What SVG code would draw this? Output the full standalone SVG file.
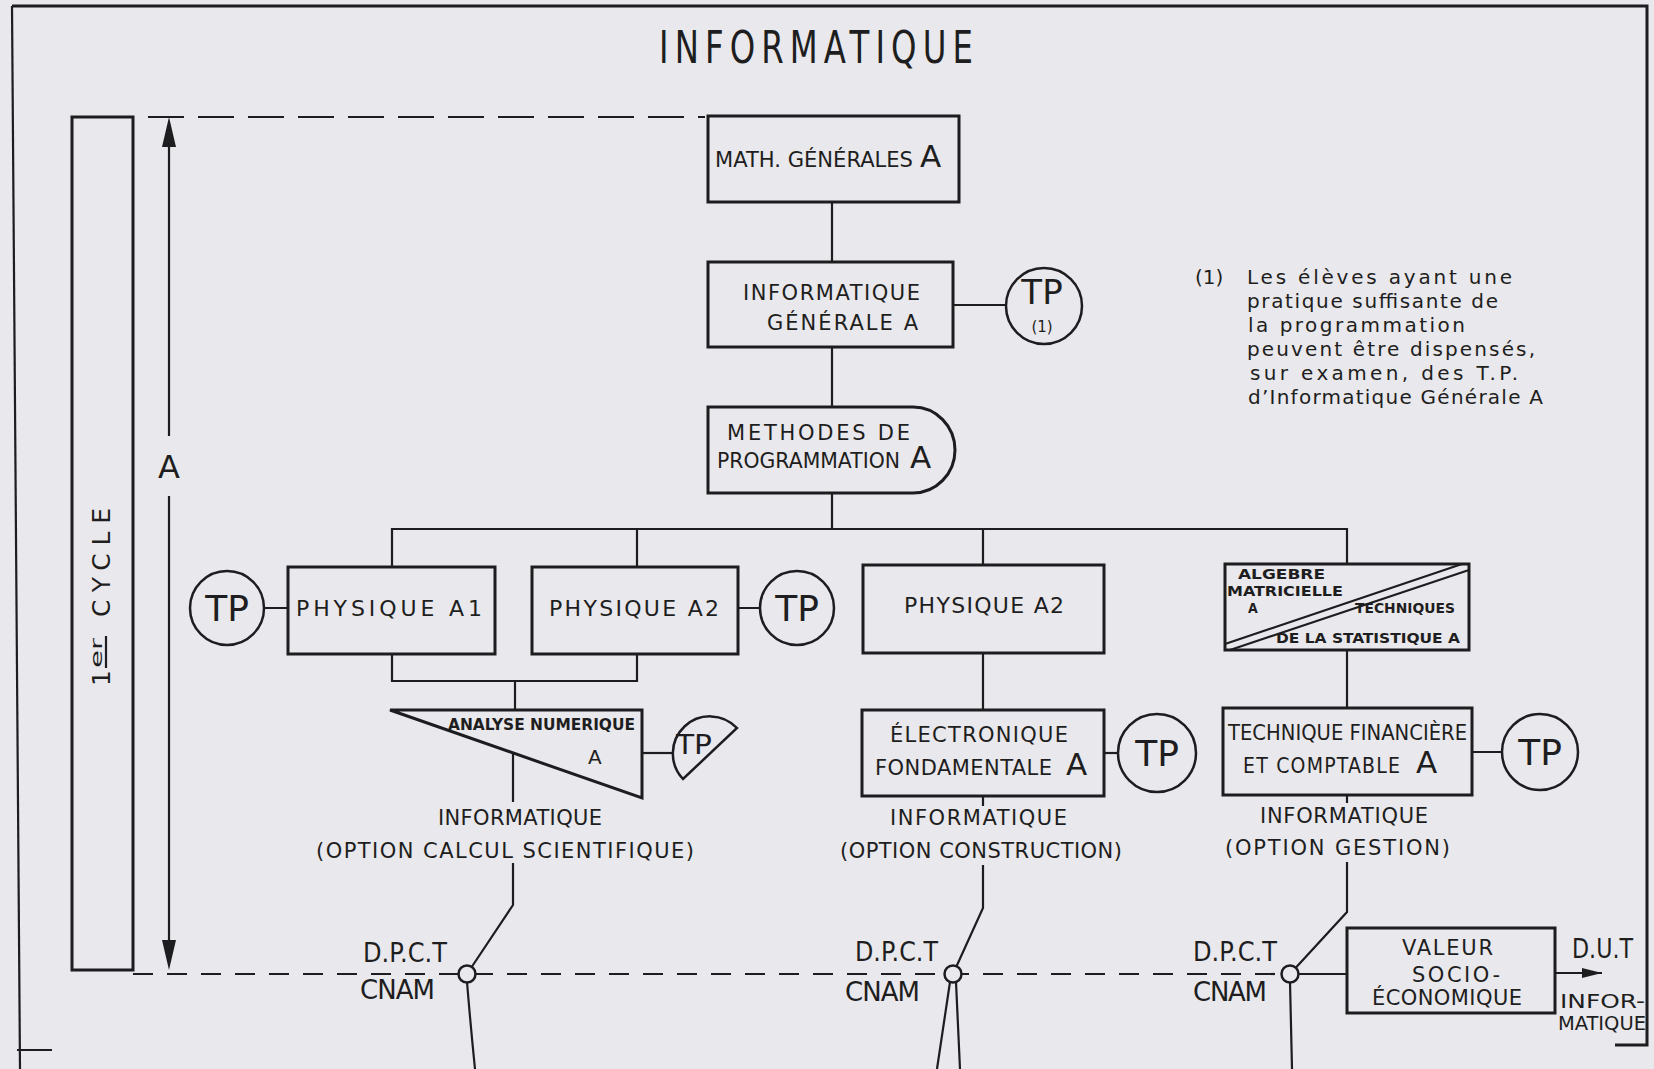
<svg xmlns="http://www.w3.org/2000/svg" width="1654" height="1069" viewBox="0 0 1654 1069">
<style>
.bg{fill:#e9e8ed}
.box{fill:none;stroke:#1d1d1f;stroke-width:3}
.circ{fill:#e9e8ed;stroke:#1d1d1f;stroke-width:2.5}
.ln{fill:none;stroke:#1d1d1f;stroke-width:2.2}
.dash1{fill:none;stroke:#1d1d1f;stroke-width:2.2;stroke-dasharray:36 14}
.dash2{fill:none;stroke:#1d1d1f;stroke-width:2.2;stroke-dasharray:20 14}
.frame{fill:none;stroke:#1d1d1f;stroke-width:3}
text{font-family:"DejaVu Sans","Liberation Sans",sans-serif;fill:#1e1e20}
.t21{font-size:21px}
.t22{font-size:22px}
.big{font-size:31px}
.tp{font-size:36px;text-anchor:middle}
.cond{font-family:"DejaVu Sans Condensed","DejaVu Sans","Liberation Sans",sans-serif}
.small{font-size:14px;font-weight:bold}
.note{font-size:20px}
.lab{font-size:26px}
</style>
<defs>
<marker id="arr" viewBox="0 0 20 10" refX="20" refY="5" markerWidth="20" markerHeight="10" markerUnits="userSpaceOnUse" orient="auto">
<path d="M0 0 L20 5 L0 10 Z" fill="#1d1d1f"/>
</marker>
</defs>
<rect class="bg" x="0" y="0" width="1654" height="1069"/>

<g id="frame">
<path class="frame" d="M12 6 H1647 V1045 H1615"/>
<path class="ln" d="M12 6 L20 1069"/>
<path class="ln" d="M17 1050 H52"/>
</g>

<text id="title" transform="translate(659,63) scale(0.72,1)" x="0" y="0" font-size="45" font-weight="500" textLength="436">INFORMATIQUE</text>

<g id="cycle">
<rect class="box" x="72" y="117" width="61" height="853"/>
<g transform="translate(110,686) rotate(-90)">
<text x="0" y="0" font-size="25">1</text>
<text x="18" y="-8" font-size="16" textLength="30" lengthAdjust="spacingAndGlyphs">er</text>
<path class="ln" d="M18 -4 H50" stroke-width="1.8"/>
<text x="69" y="0" font-size="25" textLength="109">CYCLE</text>
</g>
</g>

<g id="dimension">
<path class="ln" d="M169 140 V436 M169 496 V946"/>
<path d="M169 117 L176 147 L162 147 Z M169 970 L176 940 L162 940 Z" fill="#1d1d1f"/>
<text x="169" y="478" font-size="32" text-anchor="middle">A</text>
</g>

<g id="connectors">
<path class="dash1" d="M148 117 H705"/>
<path class="dash2" d="M133 974 H1282"/>
<path class="ln" d="M832 202 V262 M832 347 V407 M832 493 V529"/>
<path class="ln" d="M953 305 H1006"/>
<path class="ln" d="M392 566 V529 H1347 V564 M637 529 V566 M983 529 V565"/>
<path class="ln" d="M263 608 H288 M738 608 H760"/>
<path class="ln" d="M392 654 V681 H637 V654 M515 681 V710"/>
<path class="ln" d="M513 753 V802 M513 863 V905 L467 974"/>
<path class="ln" d="M642 753 H672"/>
<path class="ln" d="M983 653 V710 M983 796 V806 M983 865 V908 L953 974"/>
<path class="ln" d="M1104 753 H1118"/>
<path class="ln" d="M1347 650 V708 M1472 752 H1502"/>
<path class="ln" d="M1347 795 V803 M1347 862 V912 L1290 974"/>
<path class="ln" d="M1290 974 H1347"/>
<path class="ln" d="M1555 973 H1602" marker-end="url(#arr)"/>
<path class="ln" d="M467 982 Q471 1030 475 1069 M950 982 L937 1069 M956 982 L960 1069 M1290 982 L1292 1069"/>
<circle class="circ" cx="467" cy="974" r="8.5"/>
<circle class="circ" cx="953" cy="974" r="8.5"/>
<circle class="circ" cx="1290" cy="974" r="8.5"/>
</g>

<g id="math">
<rect class="box" x="708" y="116" width="251" height="86"/>
<text x="715" y="167" class="t22" textLength="198" lengthAdjust="spacingAndGlyphs">MATH. GÉNÉRALES</text>
<text x="920" y="167" class="big">A</text>
</g>

<g id="info-gen">
<rect class="box" x="708" y="262" width="245" height="85"/>
<text x="743" y="300" class="t21" textLength="177">INFORMATIQUE</text>
<text x="767" y="330" class="t21" textLength="151">GÉNÉRALE A</text>
</g>

<g id="tp1">
<circle class="circ" cx="1044" cy="306" r="38"/>
<text x="1042" y="304" font-size="34" text-anchor="middle">TP</text>
<text x="1042" y="332" font-size="15" text-anchor="middle">(1)</text>
</g>

<g id="note">
<text class="note" x="1195" y="284">(1)</text>
<text class="note" x="1247" y="284" textLength="265">Les élèves ayant une</text>
<text class="note" x="1247" y="308" textLength="251">pratique suffisante de</text>
<text class="note" x="1248" y="332" textLength="217">la programmation</text>
<text class="note" x="1247" y="356" textLength="288">peuvent être dispensés,</text>
<text class="note" x="1250" y="380" textLength="268">sur examen, des T.P.</text>
<text class="note" x="1248" y="404" textLength="295">d’Informatique Générale A</text>
</g>

<g id="methodes">
<path class="box" d="M708 407 H913 A42 43 0 0 1 913 493 H708 Z"/>
<text x="727" y="440" class="t21" textLength="183">METHODES DE</text>
<text x="717" y="468" class="t21" textLength="183" lengthAdjust="spacingAndGlyphs">PROGRAMMATION</text>
<text x="910" y="468" class="big">A</text>
</g>

<g id="tp-a1">
<circle class="circ" cx="227" cy="608" r="37"/>
<text x="227" y="621" class="tp">TP</text>
</g>

<g id="physique-a1">
<rect class="box" x="288" y="567" width="207" height="87"/>
<text x="296" y="616" class="t22" textLength="186">PHYSIQUE  A1</text>
</g>

<g id="physique-a2-left">
<rect class="box" x="532" y="567" width="206" height="87"/>
<text x="549" y="616" class="t22" textLength="170">PHYSIQUE A2</text>
</g>

<g id="tp-a2">
<circle class="circ" cx="797" cy="608" r="37"/>
<text x="797" y="621" class="tp">TP</text>
</g>

<g id="physique-a2-mid">
<rect class="box" x="863" y="565" width="241" height="88"/>
<text x="904" y="613" class="t22" textLength="160">PHYSIQUE A2</text>
</g>

<g id="algebre">
<rect class="box" x="1225" y="564" width="244" height="86"/>
<path class="ln" d="M1225 644 L1462 564 M1230 650 L1469 570"/>
<text x="1238" y="579" class="small cond" textLength="87" lengthAdjust="spacingAndGlyphs">ALGEBRE</text>
<text x="1227" y="596" class="small cond" textLength="116" lengthAdjust="spacingAndGlyphs">MATRICIELLE</text>
<text x="1248" y="613" class="small cond">A</text>
<text x="1355" y="613" class="small cond" textLength="100" lengthAdjust="spacingAndGlyphs">TECHNIQUES</text>
<text x="1276" y="643" class="small cond" textLength="184" lengthAdjust="spacingAndGlyphs">DE LA STATISTIQUE A</text>
</g>

<g id="analyse">
<path class="box" d="M390 710 H642 V798 Z"/>
<text x="448" y="730" font-size="16" font-weight="bold" class="cond" textLength="187" lengthAdjust="spacingAndGlyphs">ANALYSE NUMERIQUE</text>
<text x="588" y="764" font-size="20">A</text>
</g>

<g id="tp-analyse">
<path class="circ" d="M683 779 A37 37 0 0 1 737 728 Z"/>
<text x="676" y="754" font-size="26" textLength="36" lengthAdjust="spacingAndGlyphs">TP</text>
</g>

<g id="electronique">
<rect class="box" x="862" y="710" width="242" height="86"/>
<text x="890" y="742" class="t21" textLength="178">ÉLECTRONIQUE</text>
<text x="875" y="775" class="t21" textLength="177">FONDAMENTALE</text>
<text x="1066" y="775" class="big">A</text>
</g>

<g id="tp-elec">
<circle class="circ" cx="1157" cy="753" r="39"/>
<text x="1157" y="766" class="tp">TP</text>
</g>

<g id="technique">
<rect class="box" x="1223" y="708" width="249" height="87"/>
<text x="1228" y="740" class="t21 cond" textLength="239" lengthAdjust="spacingAndGlyphs">TECHNIQUE FINANCIÈRE</text>
<text x="1243" y="773" class="t21 cond" textLength="157">ET COMPTABLE</text>
<text x="1416" y="773" class="big">A</text>
</g>

<g id="tp-tech">
<circle class="circ" cx="1540" cy="752" r="38"/>
<text x="1540" y="765" class="tp">TP</text>
</g>

<g id="option-calcul">
<text x="438" y="825" class="t21" textLength="164">INFORMATIQUE</text>
<text x="316" y="858" class="t21" textLength="378">(OPTION  CALCUL  SCIENTIFIQUE)</text>
</g>

<g id="option-construction">
<text x="890" y="825" class="t21" textLength="177">INFORMATIQUE</text>
<text x="840" y="858" class="t21" textLength="282">(OPTION  CONSTRUCTION)</text>
</g>

<g id="option-gestion">
<text x="1260" y="823" class="t21" textLength="168">INFORMATIQUE</text>
<text x="1225" y="855" class="t21" textLength="225">(OPTION  GESTION)</text>
</g>

<g id="dpct-left">
<text x="363" y="962" class="lab" textLength="84" lengthAdjust="spacingAndGlyphs">D.P.C.T</text>
<text x="360" y="999" class="lab" textLength="75">CNAM</text>
</g>
<g id="dpct-mid">
<text x="855" y="961" class="lab" textLength="83" lengthAdjust="spacingAndGlyphs">D.P.C.T</text>
<text x="845" y="1001" class="lab" textLength="75">CNAM</text>
</g>
<g id="dpct-right">
<text x="1193" y="961" class="lab" textLength="84" lengthAdjust="spacingAndGlyphs">D.P.C.T</text>
<text x="1193" y="1001" class="lab" textLength="74">CNAM</text>
</g>

<g id="valeur">
<rect class="box" x="1347" y="928" width="208" height="85"/>
<text x="1402" y="955" class="t21" textLength="91">VALEUR</text>
<text x="1412" y="982" class="t21" textLength="88">SOCIO-</text>
<text x="1372" y="1005" class="t21" textLength="150">ÉCONOMIQUE</text>
</g>

<g id="dut">
<text x="1572" y="958" class="lab" textLength="61" lengthAdjust="spacingAndGlyphs">D.U.T</text>
<text x="1560" y="1008" font-size="20" textLength="85" lengthAdjust="spacingAndGlyphs">INFOR-</text>
<text x="1558" y="1030" font-size="19" textLength="88" lengthAdjust="spacingAndGlyphs" class="cond">MATIQUE</text>
</g>
</svg>
